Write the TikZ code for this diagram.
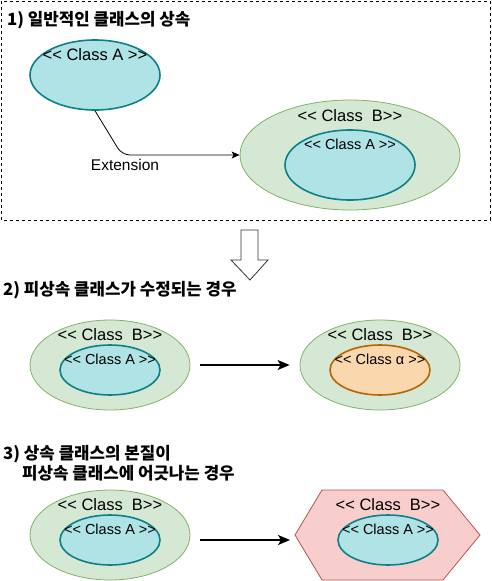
\documentclass[tikz,border=0pt]{standalone}
\usepackage{fontspec}
\setmainfont{Liberation Sans}[Ligatures=TeXOff]
\newfontfamily\krfont{Noto Sans CJK KR}
\usepackage{xcolor}
\usetikzlibrary{arrows.meta,shapes.geometric}

\definecolor{cyanfill}{HTML}{B0E3E6}
\definecolor{cyanline}{HTML}{0E8088}
\definecolor{greenfill}{HTML}{D5E8D4}
\definecolor{greenline}{HTML}{82B366}
\definecolor{orangefill}{HTML}{FAD7AC}
\definecolor{orangeline}{HTML}{B46504}
\definecolor{redfill}{HTML}{F8CECC}
\definecolor{redline}{HTML}{B85450}

\begin{document}
\begin{tikzpicture}[x=1pt,y=-1pt,
  classA/.style={ellipse, draw=cyanline, fill=cyanfill, line width=1.6pt, inner sep=0pt, minimum width=100pt, minimum height=50pt},
  classB/.style={ellipse, draw=greenline, fill=greenfill, line width=0.8pt, inner sep=0pt, minimum width=160pt, minimum height=90pt},
  bigtxt/.style={font=\fontsize{16.5}{20}\selectfont, inner sep=0pt},
  smalltxt/.style={font=\fontsize{14.5}{17}\selectfont, inner sep=0pt},
  title/.style={font=\krfont\bfseries\fontsize{16.8}{20}\selectfont, anchor=west, inner sep=0pt, align=left},
  flow/.style={-{Stealth[length=12pt,width=10pt,inset=3pt]}, line width=1.5pt}
]
\useasboundingbox (0,0) rectangle (491,581);

% 1) general inheritance
\draw[dash pattern=on 3pt off 3pt, line width=0.8pt] (1,1) rectangle (490,220);
\node[title] (t1) at (7,20) {1) 일반적인 클래스의 상속};
\node[classA, minimum width=130pt, minimum height=70pt] (a1) at (95,75) {};
\node[bigtxt] (a1t) at ([yshift=-15pt]a1.north) {<< Class A >>};
\node[classB, minimum width=220pt, minimum height=110pt] (b1) at (350,155) {};
\node[bigtxt] (b1t) at ([yshift=-16pt]b1.north) {<< Class\ \ B>>};
\node[classA, minimum width=130pt, minimum height=70pt] (b1a) at (350,165) {};
\node[smalltxt] (b1at) at ([yshift=-15pt]b1a.north) {<< Class A >>};
\coordinate (bend) at (122,155);
\draw[-{Stealth[length=8pt,width=7pt,inset=2pt]}, line width=0.8pt, rounded corners=8pt] (a1.south) -- (bend) -- (b1.west);
\node[font=\fontsize{15.5}{18}\selectfont, inner sep=0pt, anchor=base] (ext) at (125,170) {Extension};

% hollow arrow down
\draw[fill=white, draw=black!80, line width=0.8pt] (241,230) -- (258,230) -- (258,260) -- (268,260) -- (250,280) -- (231,260) -- (241,260) -- cycle;

% 2) parent class changed
\node[title] (t2) at (3,290) {2) 피상속 클래스가 수정되는 경우};
\node[classB] (b2) at (110,365) {};
\node[bigtxt] (b2t) at ([yshift=-15pt]b2.north) {<< Class\ \ B>>};
\node[classA] (b2a) at (110,370) {};
\node[smalltxt] (b2at) at ([yshift=-15pt]b2a.north) {<< Class A >>};
\node[classB] (b2r) at (380,365) {};
\node[bigtxt] (b2rt) at ([yshift=-15pt]b2r.north) {<< Class\ \ B>>};
\node[classA, draw=orangeline, fill=orangefill] (alpha) at (380,370) {};
\node[smalltxt] (alphat) at ([yshift=-15pt]alpha.north) {<< Class α >>};
\draw[flow, shorten <=10pt, shorten >=10pt] (b2) -- (b2r);

% 3) child class breaks the parent
\node[title] (t3) at (3,463) {3) 상속 클래스의 본질이\\\hspace*{19pt}피상속 클래스에 어긋나는 경우};
\node[classB] (b3) at (110,535) {};
\node[bigtxt] (b3t) at ([yshift=-15pt]b3.north) {<< Class\ \ B>>};
\node[classA] (b3a) at (110,540) {};
\node[smalltxt] (b3at) at ([yshift=-15pt]b3a.north) {<< Class A >>};
\draw[fill=redfill, draw=redline, line width=0.8pt] (295,535) -- (322,490) -- (443,490) -- (480,535) -- (443,580) -- (322,580) -- cycle;
\coordinate (hexw) at (295,535);
\node[bigtxt] (hext) at (388,505) {<< Class\ \ B>>};
\node[classA] (hexa) at (388,540) {};
\node[smalltxt] (hexat) at ([yshift=-15pt]hexa.north) {<< Class A >>};
\draw[flow, shorten <=10pt, shorten >=5pt] ([yshift=-5pt]b3.east) -- ([yshift=-5pt]hexw);
\end{tikzpicture}
\end{document}
